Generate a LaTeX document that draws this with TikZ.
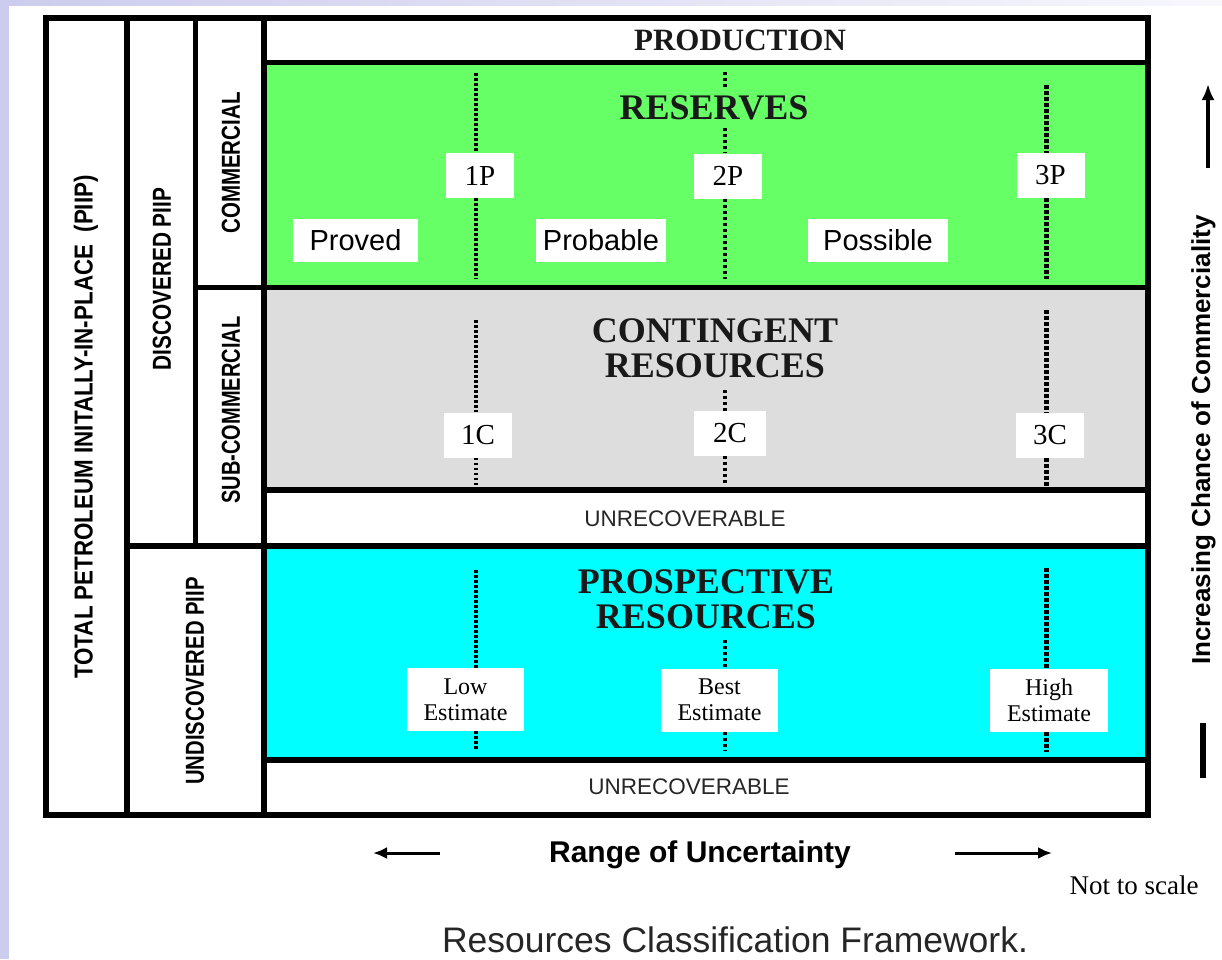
\documentclass[tikz,border=0pt]{standalone}
\usepackage{fontspec}
\setmainfont{Liberation Serif}
\setsansfont{Liberation Sans}
\usepackage{graphicx}
\usetikzlibrary{positioning,
        arrows.meta}
\definecolor{lavband}{RGB}{204,204,238}
\definecolor{resgreen}{RGB}{102,255,102}
\definecolor{congrey}{RGB}{221,221,221}
\definecolor{procyan}{RGB}{0,255,255}
\newcommand{\fs}[2]{\fontsize{#1}{#2}\selectfont}

\begin{document}
\begin{tikzpicture}[x=1pt,y=-1pt,
        frame/.style={line width=5.5pt},
        heading/.style={font=\fs{36}{35}\bfseries,align=center,text=black!90,inner sep=8pt},
        cell/.style={fill=white,font=\fs{29}{30},minimum height=45pt,minimum width=68pt,inner sep=0pt},
        estbox/.style={fill=white,font=\fs{24}{26},align=center,minimum height=63pt,minimum width=117pt,inner sep=0pt},
        cat/.style={fill=white,font=\sffamily\fs{29}{30},minimum height=43pt,inner sep=0pt},
        side/.style={rotate=90,font=\sffamily\bfseries\fs{26}{26}},
        unrec/.style={font=\sffamily\fs{22.5}{24},text=black!85},
        tickA/.style={line width=3.5pt,dash pattern=on 2.5pt off 2.5pt},
        tickB/.style={line width=4pt,dash pattern=on 3pt off 3pt},
        tickC/.style={line width=5pt,dash pattern=on 4pt off 2pt}]
    \useasboundingbox (0,0) rectangle (1222,959);
    % page background
    \fill[white] (0,0) rectangle (1222,959);
    \fill[lavband] (0,0) rectangle (9,959);
    \shade[left color=lavband,right color=lavband!15] (9,0) rectangle (1222,5);

    % coloured bands
    \fill[resgreen] (264,62.5) rectangle (1148,287.5);
    \fill[congrey] (264,287.5) rectangle (1148,490);
    \fill[procyan] (264,546) rectangle (1148,760);

    % frame
    \draw[frame,line width=6pt] (45.5,17.5) rectangle (1148,815);
    \draw[frame] (127,17.5) -- (127,815);
    \draw[frame] (195.5,17.5) -- (195.5,546);
    \draw[frame] (264,17.5) -- (264,815);
    \draw[frame] (264,62.5) -- (1148,62.5);
    \draw[frame] (195.5,287.5) -- (1148,287.5);
    \draw[frame] (264,490) -- (1148,490);
    \draw[frame] (127,546) -- (1148,546);
    \draw[frame] (264,760) -- (1148,760);

    % side labels
    \node[side] (total) at (86,427) {\scalebox{0.86}[1]{TOTAL PETROLEUM INITALLY-IN-PLACE \ (PIIP)}};
    \node[side] (disc) at (162,279) {\scalebox{0.8}[1]{DISCOVERED PIIP}};
    \node[side] (comm) at (231,163) {\scalebox{0.79}[1]{COMMERCIAL}};
    \node[side] (subcomm) at (231,410) {\scalebox{0.77}[1]{SUB-COMMERCIAL}};
    \node[side] (undisc) at (195,681) {\scalebox{0.78}[1]{UNDISCOVERED PIIP}};

    % band titles
    \node[font=\fs{31}{31}\bfseries,text=black!90] (prod) at (740,40) {PRODUCTION};
    \node[heading] (reserves) at (714,108) {RESERVES};
    \node[heading] (contingent) at (715,348) {CONTINGENT\\RESOURCES};
    \node[heading] (prospective) at (706,599) {PROSPECTIVE\\RESOURCES};
    \node[unrec] (unrecA) at (685,519) {UNRECOVERABLE};
    \node[unrec] (unrecB) at (689,787) {UNRECOVERABLE};

    % reserves boxes
    \node[cell] (p1) at (480,175.5) {1P};
    \node[cell] (p2) at (728,176) {2P};
    \node[cell] (p3) at (1050.5,175.5) {3P};
    \node[cat,minimum width=125pt] (proved) at (355.5,240.5) {Proved};
    \node[cat,minimum width=130pt] (probable) at (601,240.5) {Probable};
    \node[cat,minimum width=140pt] (possible) at (878,240.5) {Possible};

    % contingent boxes
    \node[cell] (c1) at (478,435) {1C};
    \node[cell,minimum width=72pt] (c2) at (730,433.5) {2C};
    \node[cell] (c3) at (1050,435) {3C};

    % prospective boxes
    \node[estbox] (low) at (465.5,699.5) {Low\\Estimate};
    \node[estbox] (best) at (719.5,700) {Best\\Estimate};
    \node[estbox,minimum width=118pt] (high) at (1049,700) {High\\Estimate};

    % uncertainty lines
    \coordinate (g1top) at (476,73);
    \coordinate (g1bot) at (476,279);
    \coordinate (g2top) at (725,72);
    \coordinate (g2bot) at (725,279);
    \coordinate (g3top) at (1046,85);
    \coordinate (g3bot) at (1046,279);
    \draw[tickA] (g1top) -- (g1top |- p1.north);
    \draw[tickA] (g1bot |- p1.south) -- (g1bot);
    \draw[tickB] (g2top) -- (g2top |- reserves.north);
    \draw[tickB] (g2top |- reserves.south) -- (g2top |- p2.north);
    \draw[tickB] (g2bot |- p2.south) -- (g2bot);
    \draw[tickC] (g3top) -- (g3top |- p3.north);
    \draw[tickC] (g3bot |- p3.south) -- (g3bot);

    \coordinate (k1top) at (476,320);
    \coordinate (k1bot) at (476,486);
    \coordinate (k2top) at (725,390);
    \coordinate (k2bot) at (725,486);
    \coordinate (k3top) at (1046,310);
    \coordinate (k3bot) at (1046,486);
    \draw[tickA] (k1top) -- (k1top |- c1.north);
    \draw[tickA] (k1bot |- c1.south) -- (k1bot);
    \draw[tickB] (k2top) -- (k2top |- c2.north);
    \draw[tickB] (k2bot |- c2.south) -- (k2bot);
    \draw[tickC] (k3top) -- (k3top |- c3.north);
    \draw[tickC] (k3bot |- c3.south) -- (k3bot);

    \coordinate (e1top) at (476,570);
    \coordinate (e1bot) at (476,750);
    \coordinate (e2top) at (725,640);
    \coordinate (e2bot) at (725,750);
    \coordinate (e3top) at (1046,568);
    \coordinate (e3bot) at (1046,752);
    \draw[tickA] (e1top) -- (e1top |- low.north);
    \draw[tickA] (e1bot |- low.south) -- (e1bot);
    \draw[tickB] (e2top) -- (e2top |- best.north);
    \draw[tickB] (e2bot |- best.south) -- (e2bot);
    \draw[tickC] (e3top) -- (e3top |- high.north);
    \draw[tickC] (e3bot |- high.south) -- (e3bot);

    % commerciality axis
    \node[rotate=90,font=\sffamily\bfseries\fs{26}{26}] (chance) at (1203.5,440) {Increasing Chance of Commerciality};
    \coordinate (upbot) at (1208,168);
    \coordinate (uptop) at (1208,84);
    \draw[-{Latex[length=16pt,width=13pt]},line width=3.5pt] (upbot) -- (uptop);
    \coordinate (bartop) at (1203,723);
    \coordinate (barbot) at (1203,778);
    \draw[line width=6pt] (bartop) -- (barbot);

    % uncertainty axis
    \node[font=\sffamily\bfseries\fs{30}{30}] (range) at (700,855) {Range of Uncertainty};
    \coordinate (lfrom) at (440,853);
    \coordinate (lto) at (373,853);
    \coordinate (rfrom) at (955,853);
    \coordinate (rto) at (1052,853);
    \draw[-{Latex[length=14pt,width=12pt]},line width=3pt] (lfrom) -- (lto);
    \draw[-{Latex[length=14pt,width=12pt]},line width=3pt] (rfrom) -- (rto);
    \node[font=\fs{27}{27}] (scale) at (1134,885) {Not to scale};

    \node[font=\sffamily\fs{35.5}{36},text=black!85] (caption) at (735,940) {Resources Classification Framework.};
\end{tikzpicture}
\end{document}
